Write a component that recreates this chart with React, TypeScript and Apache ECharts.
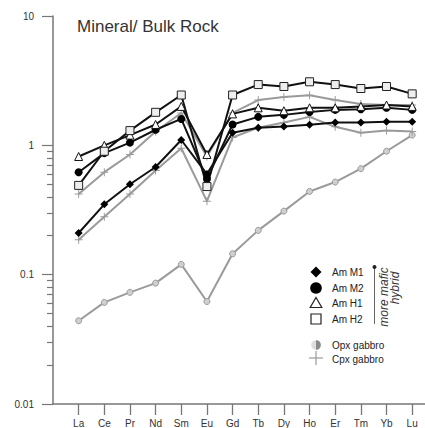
import React, { useEffect, useRef } from "react";
import * as echarts from "echarts";

const ree = ["La", "Ce", "Pr", "Nd", "Sm", "Eu", "Gd", "Tb", "Dy", "Ho", "Er", "Tm", "Yb", "Lu"];

const amM1 = [0.21, 0.35, 0.5, 0.68, 1.1, 0.6, 1.25, 1.37, 1.4, 1.44, 1.5, 1.5, 1.52, 1.52];
const amM2 = [0.62, 0.87, 1.05, 1.32, 1.6, 0.55, 1.45, 1.66, 1.72, 1.81, 1.88, 1.9, 1.95, 1.88];
const amH1 = [0.82, 1.0, 1.2, 1.45, 2.0, 0.85, 1.75, 1.95, 1.85, 1.95, 1.95, 2.0, 2.05, 2.0];
const amH2 = [0.49, 0.9, 1.3, 1.8, 2.45, 0.48, 2.45, 2.95, 2.85, 3.1, 2.95, 2.75, 2.85, 2.5];
const opxGabbro = [0.044, 0.061, 0.073, 0.086, 0.12, 0.062, 0.145, 0.22, 0.31, 0.44, 0.52, 0.66, 0.9, 1.2];
const cpxGabbroA = [0.42, 0.62, 0.85, 1.28, 1.78, 0.82, 1.78, 2.24, 2.36, 2.44, 2.24, 2.09, 2.05, 2.05];
const cpxGabbroB = [0.186, 0.28, 0.42, 0.64, 0.95, 0.37, 1.15, 1.37, 1.5, 1.66, 1.39, 1.25, 1.3, 1.28];

const yMajorTicks = [0.01, 0.1, 1, 10];
const yMinorTicks = [2, 3, 4, 5, 6, 7, 8, 9, 20, 30, 40, 50, 60, 70, 80, 90, 200, 300, 400, 500, 600, 700, 800, 900].map(
  (k) => k / 1000
);

const legendAm = ["Am M1", "Am M2", "Am H1", "Am H2"];
const legendGabbro = ["Opx gabbro", "Cpx gabbro"];

const FONT = "Liberation Sans, Arial, sans-serif";
const BLACK = "#111";
const GRAY = "#9a9a9a";
const PLUS = "path://M4.4,0 L5.6,0 L5.6,4.4 L10,4.4 L10,5.6 L5.6,5.6 L5.6,10 L4.4,10 L4.4,5.6 L0,5.6 L0,4.4 L4.4,4.4 Z";

const toPairs = (arr: number[]) => arr.map((v, i) => [i, v]);

export default function App() {
  const ref = useRef<HTMLDivElement>(null);
  useEffect(() => {
    if (!ref.current) return;
    const chart = echarts.init(ref.current, null, { renderer: "svg" });
    const lineSeries = (
      name: string,
      data: number[],
      color: string,
      symbol: string,
      size: number,
      itemStyle: any,
      z: number
    ) => ({
      name,
      type: "line",
      data: toPairs(data),
      xAxisIndex: 0,
      yAxisIndex: 0,
      symbol,
      symbolSize: size,
      showSymbol: true,
      lineStyle: { color, width: 2 },
      itemStyle,
      z,
    });
    const lx = 316;
    const rows = [272, 288, 303, 319];
    const graphic: any[] = [
      {
        type: "text",
        left: 77,
        top: 18,
        style: { text: "Mineral/ Bulk Rock", font: `17px ${FONT}`, fill: "#333" },
      },
      { type: "polygon", shape: { points: [[lx, rows[0] - 5.5], [lx + 5.5, rows[0]], [lx, rows[0] + 5.5], [lx - 5.5, rows[0]]] }, style: { fill: "#000" } },
      { type: "circle", shape: { cx: lx, cy: rows[1], r: 5.8 }, style: { fill: "#000" } },
      { type: "polygon", shape: { points: [[lx, rows[2] - 5.5], [lx + 5.8, rows[2] + 4.5], [lx - 5.8, rows[2] + 4.5]] }, style: { fill: "#fff", stroke: "#222", lineWidth: 1.2 } },
      { type: "rect", shape: { x: lx - 5, y: rows[3] - 5, width: 10, height: 10 }, style: { fill: "#fff", stroke: "#222", lineWidth: 1.2 } },
      { type: "circle", shape: { cx: lx, cy: 345, r: 4.8 }, style: { fill: "#dedede" } },
      { type: "sector", shape: { cx: lx, cy: 345, r: 4.8, r0: 0, startAngle: -Math.PI / 2, endAngle: Math.PI / 2, clockwise: true }, style: { fill: "#8a8a8a" } },
      { type: "line", shape: { x1: lx - 7, y1: 358, x2: lx + 7, y2: 358 }, style: { stroke: GRAY, lineWidth: 1.2 } },
      { type: "line", shape: { x1: lx, y1: 351, x2: lx, y2: 365 }, style: { stroke: GRAY, lineWidth: 1.2 } },
      { type: "line", shape: { x1: 374.5, y1: 268, x2: 374.5, y2: 324 }, style: { stroke: "#666", lineWidth: 1 } },
      { type: "circle", shape: { cx: 374.5, cy: 267, r: 2 }, style: { fill: "#222" } },
      {
        type: "text",
        x: 384,
        y: 297,
        rotation: Math.PI / 2,
        style: { text: "more mafic", font: `italic 12px ${FONT}`, fill: "#333", align: "center", verticalAlign: "middle" },
      },
      {
        type: "text",
        x: 395,
        y: 288,
        rotation: Math.PI / 2,
        style: { text: "hybrid", font: `italic 12px ${FONT}`, fill: "#333", align: "center", verticalAlign: "middle" },
      },
    ];
    legendAm.forEach((t, i) => {
      graphic.push({
        type: "text",
        x: 332,
        y: rows[i],
        style: { text: t, font: `10px ${FONT}`, fill: "#222", verticalAlign: "middle" },
      });
    });
    legendGabbro.forEach((t, i) => {
      graphic.push({
        type: "text",
        x: 332,
        y: [345, 359][i],
        style: { text: t, font: `10px ${FONT}`, fill: "#222", verticalAlign: "middle" },
      });
    });

    const tickAxis = (values: number[], length: number) => ({
      type: "value",
      min: -2,
      max: 1,
      position: "left",
      offset: 0,
      axisLine: { show: false, onZero: false },
      axisTick: { show: true, customValues: values, length, lineStyle: { color: "#777", width: 1.2 } },
      axisLabel: { show: false },
      splitLine: { show: false },
    });

    chart.setOption({
      animation: false,
      backgroundColor: "#fff",
      textStyle: { fontFamily: FONT },
      grid: { left: 53, right: 0, top: 16, height: 395, containLabel: false },
      xAxis: {
        type: "value",
        min: -1,
        max: 13.5,
        interval: 1,
        axisLine: { show: true, onZero: false, lineStyle: { color: "#777", width: 1.5 } },
        axisTick: { show: true, customValues: ree.map((_, i) => i), length: 11, lineStyle: { color: "#777", width: 1.3 } },
        axisLabel: {
          show: true,
          customValues: ree.map((_, i) => i),
          formatter: (v: number) => ree[Math.round(v)] ?? "",
          margin: 14,
          fontSize: 10,
          color: "#333",
        },
        splitLine: { show: false },
      },
      yAxis: [
        {
          type: "log",
          logBase: 10,
          min: 0.01,
          max: 10,
          axisLine: { show: true, onZero: false, lineStyle: { color: "#777", width: 1.5 } },
          axisTick: { show: false },
          axisLabel: {
            show: true,
            customValues: yMajorTicks,
            formatter: (v: number) => String(Number(v.toPrecision(3))),
            margin: 19,
            fontSize: 10,
            color: "#333",
          },
          splitLine: { show: false },
          minorTick: { show: false },
        },
        tickAxis(yMinorTicks.map((v) => Math.log10(v)), 6),
        tickAxis(yMajorTicks.map((v) => Math.log10(v)), 11),
      ],
      series: [
        lineSeries("Opx gabbro", opxGabbro, GRAY, "circle", 6, { color: "#cfcfcf", borderColor: "#9a9a9a", borderWidth: 1 }, 2),
        lineSeries("Cpx gabbro", cpxGabbroB, GRAY, PLUS, 8, { color: GRAY }, 2),
        lineSeries("Cpx gabbro 2", cpxGabbroA, GRAY, PLUS, 8, { color: GRAY }, 2),
        lineSeries("Am M1", amM1, BLACK, "diamond", 8, { color: "#000" }, 3),
        lineSeries("Am M2", amM2, BLACK, "circle", 8, { color: "#000" }, 3),
        lineSeries("Am H1", amH1, BLACK, "triangle", 8, { color: "#fff", borderColor: "#111", borderWidth: 1 }, 3),
        lineSeries("Am H2", amH2, BLACK, "rect", 8, { color: "#eee", borderColor: "#222", borderWidth: 1 }, 3),
      ],
      graphic,
    });
    return () => chart.dispose();
  }, []);
  return (
    <div style={{ width: 425, height: 428, position: "absolute", left: 0, top: 0, overflow: "hidden" }}>
      <div ref={ref} style={{ width: 425, height: 428 }} />
    </div>
  );
}
